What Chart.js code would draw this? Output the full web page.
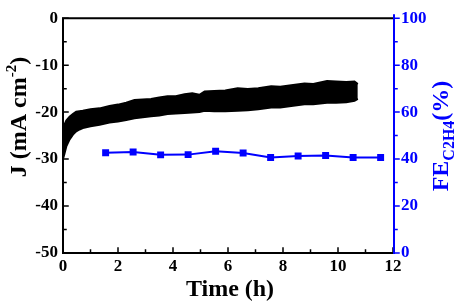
<!DOCTYPE html>
<html>
<head>
<meta charset="utf-8">
<script src="https://cdn.jsdelivr.net/npm/chart.js@4.4.0/dist/chart.umd.min.js"></script>
<style>
html, body { margin: 0; padding: 0; background: #fff; }
#wrap { width: 457px; height: 305px; }
</style>
</head>
<body>
<div id="wrap"><canvas id="chronoChart"></canvas></div>
<script>
// chronoamperometry band (upper / lower edge of the noisy J trace)
const timeH = [0, 0.05, 0.12, 0.24, 0.36, 0.48, 0.6, 0.72, 1.0, 1.33, 1.69, 2.0, 2.3, 2.6, 2.9, 3.2, 3.5, 3.8, 4.1, 4.42, 4.7, 4.96, 5.15, 5.5, 5.9, 6.35, 6.72, 7.1, 7.57, 7.9, 8.3, 8.78, 9.1, 9.6, 9.93, 10.3, 10.6, 10.72];
const jUpper = [-23.5, -22.7, -21.8, -21.0, -20.4, -19.9, -19.8, -19.7, -19.4, -19.2, -18.7, -18.4, -18.0, -17.4, -17.3, -17.2, -16.9, -16.6, -16.6, -16.2, -16.0, -16.3, -15.6, -15.5, -15.4, -14.9, -15.1, -14.9, -14.5, -14.6, -14.3, -13.9, -14.0, -13.4, -13.5, -13.6, -13.5, -14.0];
const jLower = [-30.0, -28.9, -27.3, -25.8, -24.8, -24.1, -23.7, -23.4, -23.0, -22.7, -22.2, -22.0, -21.7, -21.3, -21.1, -20.9, -20.7, -20.4, -20.3, -20.2, -20.1, -20.0, -19.7, -19.8, -19.8, -19.7, -19.6, -19.4, -19.0, -19.0, -18.7, -18.3, -18.3, -18.0, -18.0, -17.9, -17.6, -17.2];

// faradaic efficiency of C2H4
const feTime = [1.55, 2.55, 3.55, 4.55, 5.55, 6.55, 7.55, 8.55, 9.55, 10.55, 11.55];
const feC2H4 = [42.7, 43.0, 41.8, 41.9, 43.3, 42.6, 40.7, 41.3, 41.5, 40.7, 40.7];

const xTicks = [0, 2, 4, 6, 8, 10, 12];
const jTicks = [-50, -40, -30, -20, -10, 0];
const feTicks = [0, 20, 40, 60, 80, 100];

const BLUE = '#0000ff';
const FONT = '"Liberation Serif", "Times New Roman", serif';

const toPts = (xs, ys) => xs.map((x, i) => ({ x: x, y: ys[i] }));

// axes frame, inward/outward tick marks and rich-text axis titles
const framePlugin = {
    id: 'frame',
    afterDraw(chart) {
        const ctx = chart.ctx;
        const a = chart.chartArea;
        const sx = chart.scales.x, sy = chart.scales.y, sy2 = chart.scales.y2;
        ctx.save();
        ctx.lineCap = 'square';

        // black frame (left, bottom, top)
        ctx.strokeStyle = '#000';
        ctx.lineWidth = 2;
        ctx.beginPath();
        ctx.moveTo(a.right, a.top);
        ctx.lineTo(a.left, a.top);
        ctx.lineTo(a.left, a.bottom);
        ctx.lineTo(a.right, a.bottom);
        ctx.stroke();

        // left ticks, inward
        ctx.lineWidth = 1.5;
        ctx.beginPath();
        for (let v = -50; v <= 0; v += 5) {
            const y = sy.getPixelForValue(v);
            const len = v % 10 === 0 ? 5 : 3;
            ctx.moveTo(a.left, y);
            ctx.lineTo(a.left + len, y);
        }
        // bottom ticks, inward
        for (let v = 0; v <= 12; v += 1) {
            const x = sx.getPixelForValue(v);
            const len = v % 2 === 0 ? 5 : 3;
            ctx.moveTo(x, a.bottom);
            ctx.lineTo(x, a.bottom - len);
        }
        ctx.stroke();

        // right axis in blue, ticks outward
        ctx.strokeStyle = BLUE;
        ctx.lineWidth = 2;
        ctx.beginPath();
        ctx.moveTo(a.right + 1, a.top - 3);
        ctx.lineTo(a.right + 1, a.bottom);
        ctx.stroke();
        ctx.lineWidth = 1.5;
        ctx.beginPath();
        for (let v = 0; v <= 100; v += 10) {
            const y = sy2.getPixelForValue(v);
            const len = v % 20 === 0 ? 5 : 3;
            ctx.moveTo(a.right + 1, y);
            ctx.lineTo(a.right + 1 + len, y);
        }
        ctx.stroke();

        // x title
        ctx.fillStyle = '#000';
        ctx.font = 'bold 24px ' + FONT;
        ctx.textAlign = 'center';
        ctx.textBaseline = 'alphabetic';
        ctx.fillText('Time (h)', 230, 296);

        // rotated titles built from pieces
        const drawRich = (cx, cy, pieces, color) => {
            ctx.save();
            ctx.translate(cx, cy);
            ctx.rotate(-Math.PI / 2);
            ctx.fillStyle = color;
            let total = 0;
            pieces.forEach(p => { ctx.font = 'bold ' + p.size + 'px ' + FONT; total += ctx.measureText(p.t).width; });
            let x = -total / 2;
            ctx.textAlign = 'left';
            pieces.forEach(p => {
                ctx.font = 'bold ' + p.size + 'px ' + FONT;
                ctx.fillText(p.t, x, p.dy);
                x += ctx.measureText(p.t).width;
            });
            ctx.restore();
        };
        drawRich(26, 117, [
            { t: 'J (mA cm', size: 24, dy: 0 },
            { t: '-2', size: 15, dy: -10 },
            { t: ')', size: 24, dy: 0 }
        ], '#000');
        drawRich(448, 136, [
            { t: 'FE', size: 24, dy: 0 },
            { t: 'C2H4', size: 16, dy: 6 },
            { t: '(%)', size: 24, dy: 0 }
        ], BLUE);

        ctx.restore();
    }
};

new Chart(document.getElementById('chronoChart'), {
    type: 'line',
    data: {
        datasets: [{
            label: 'J upper',
            data: toPts(timeH, jUpper),
            yAxisID: 'y',
            borderColor: '#000',
            borderWidth: 2,
            pointRadius: 0,
            fill: false,
            tension: 0
        }, {
            label: 'J lower',
            data: toPts(timeH, jLower),
            yAxisID: 'y',
            borderColor: '#000',
            borderWidth: 2,
            backgroundColor: '#000',
            pointRadius: 0,
            fill: '-1',
            tension: 0
        }, {
            label: 'FE C2H4',
            data: toPts(feTime, feC2H4),
            yAxisID: 'y2',
            borderColor: BLUE,
            borderWidth: 2,
            pointStyle: 'rect',
            pointRadius: 3.5,
            pointBackgroundColor: BLUE,
            pointBorderColor: BLUE,
            fill: false,
            tension: 0
        }]
    },
    options: {
        responsive: true,
        maintainAspectRatio: false,
        animation: false,
        devicePixelRatio: 1,
        layout: {
            padding: { top: 9, left: 0, right: 0, bottom: 0 }
        },
        plugins: {
            legend: { display: false },
            tooltip: { enabled: false }
        },
        scales: {
            x: {
                type: 'linear',
                min: 0,
                max: 12,
                afterBuildTicks: s => { s.ticks = xTicks.map(v => ({ value: v })); },
                afterFit: s => { s.height = 52; },
                grid: { display: false, drawTicks: false },
                border: { display: false },
                ticks: {
                    color: '#000',
                    padding: 3,
                    maxRotation: 0,
                    font: { family: FONT, size: 17, weight: 'bold' }
                }
            },
            y: {
                position: 'left',
                min: -50,
                max: 0,
                afterBuildTicks: s => { s.ticks = jTicks.map(v => ({ value: v })); },
                afterFit: s => { s.width = 63; },
                grid: { display: false, drawTicks: false },
                border: { display: false },
                ticks: {
                    color: '#000',
                    padding: 5,
                    font: { family: FONT, size: 17, weight: 'bold' }
                }
            },
            y2: {
                position: 'right',
                min: 0,
                max: 100,
                afterBuildTicks: s => { s.ticks = feTicks.map(v => ({ value: v })); },
                afterFit: s => { s.width = 64; },
                grid: { display: false, drawTicks: false },
                border: { display: false },
                ticks: {
                    color: BLUE,
                    padding: 8,
                    font: { family: FONT, size: 17, weight: 'bold' }
                }
            }
        }
    },
    plugins: [framePlugin]
});
</script>
</body>
</html>
